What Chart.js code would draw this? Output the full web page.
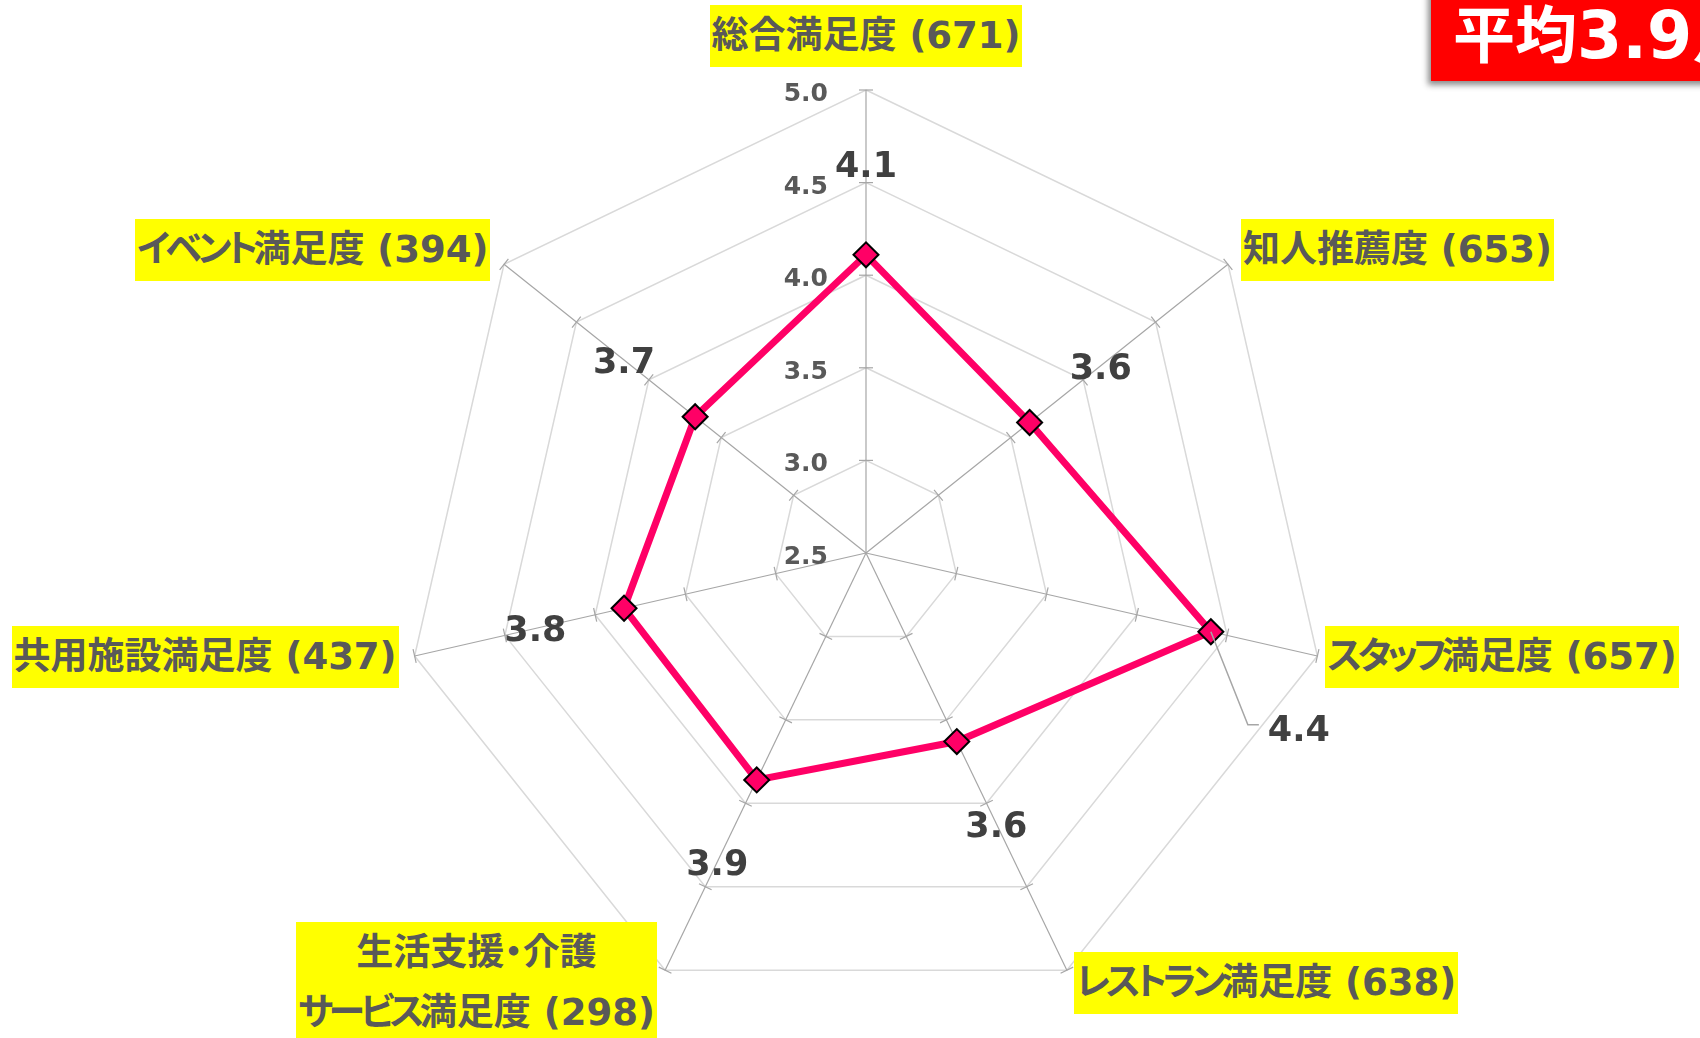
<!DOCTYPE html>
<html lang="ja">
<head>
<meta charset="utf-8">
<script src="https://cdn.jsdelivr.net/npm/chart.js@4.4.1/dist/chart.umd.min.js"></script>
<style>
  html, body { margin: 0; padding: 0; background: #fff; overflow: hidden; }
  #wrap { position: relative; width: 1700px; height: 1038px; overflow: hidden; }
  #grafico { position: absolute; left: 0; top: 0; }
  .rotulo {
    position: absolute;
    background: #ffff00;
    color: #595959;
    font-family: "DejaVu Sans", "Noto Sans CJK JP", sans-serif;
    font-weight: bold;
    font-size: 37px;
    line-height: 60px;
    padding: 1px 2px;
    white-space: nowrap;
    text-align: center;
    font-feature-settings: "palt";
  }
  .rotulo.duas { padding-bottom: 24px; }
  .kana { letter-spacing: -4.5px; }
  #media {
    position: absolute;
    left: 1431px;
    top: -20px;
    width: 320px;
    height: 101px;
    background: #ff0000;
    box-shadow: -3px 4px 6px rgba(0, 0, 0, 0.45);
    color: #fff;
    font-family: "DejaVu Sans", "Noto Sans CJK JP", sans-serif;
    font-weight: bold;
    font-size: 62px;
    line-height: 62px;
    padding: 25px 0 0 22px;
    box-sizing: border-box;
    white-space: nowrap;
  }
  #media .num { font-size: 65px; }
</style>
</head>
<body>
<div id="wrap">
  <canvas id="grafico" width="1700" height="1038"></canvas>
  <div id="media"></div>
</div>
<script>
// Dados do gráfico //

const categorias = [
    "総合満足度 (671)",
    "知人推薦度 (653)",
    "スタッフ満足度 (657)",
    "レストラン満足度 (638)",
    ["生活支援・介護", "サービス満足度 (298)"],
    "共用施設満足度 (437)",
    "イベント満足度 (394)"
];
const valores = [4.11, 3.63, 4.41, 3.63, 3.86, 3.84, 3.68];
const ticksEixo = [2.5, 3.0, 3.5, 4.0, 4.5, 5.0];
const tituloMedia = "平均3.9点";

// Posição dos rótulos das categorias (relativa à ponta de cada eixo) //
const layoutRotulos = [
    { alinha: "center", dx: 0,   dy: -54 },
    { alinha: "left",   dx: 13,  dy: -14 },
    { alinha: "left",   dx: 8,   dy: 1 },
    { alinha: "left",   dx: 7,   dy: 13 },
    { alinha: "right",  dx: -8,  dy: 24 },
    { alinha: "right",  dx: -16, dy: 1 },
    { alinha: "right",  dx: -14, dy: -14 }
];

// Monta texto separando trechos que recebem outra classe
function montaTexto(el, texto, regex, classe) {
    texto.split(regex).forEach(parte => {
        if (!parte) return;
        if (regex.test(parte)) {
            const s = document.createElement("span");
            s.className = classe;
            s.textContent = parte;
            el.appendChild(s);
        } else {
            el.appendChild(document.createTextNode(parte));
        }
    });
}

montaTexto(document.getElementById("media"), tituloMedia, /([0-9.]+)/, "num");

let rotulosCriados = false;

// Plugin: marcas e números do eixo, rótulos de dados e das categorias //
const rotulosPlugin = {
    id: "rotulos",
    beforeDatasetsDraw(chart) {
        const r = chart.scales.r;
        const ctx = chart.ctx;
        ctx.save();

        // marquinhas em cada eixo
        ctx.strokeStyle = "#a6a6a6";
        ctx.lineWidth = 1.2;
        ticksEixo.forEach(v => {
            if (v <= r.min) return;
            const d = r.getDistanceFromCenterForValue(v);
            for (let i = 0; i < categorias.length; i++) {
                const p = r.getPointPosition(i, d);
                const nx = -Math.sin(p.angle) * 7;
                const ny = Math.cos(p.angle) * 7;
                ctx.beginPath();
                ctx.moveTo(p.x - nx, p.y - ny);
                ctx.lineTo(p.x + nx, p.y + ny);
                ctx.stroke();
            }
        });

        // números do eixo, à esquerda do eixo vertical
        ctx.font = 'bold 25px "DejaVu Sans"';
        ctx.fillStyle = "#595959";
        ctx.textAlign = "right";
        ctx.textBaseline = "alphabetic";
        ticksEixo.forEach(v => {
            const d = r.getDistanceFromCenterForValue(v);
            ctx.fillText(v.toFixed(1), r.xCenter - 38, r.yCenter - d + 11);
        });
        ctx.restore();
    },
    afterDatasetsDraw(chart) {
        const r = chart.scales.r;
        const ctx = chart.ctx;
        const meta = chart.getDatasetMeta(0);
        ctx.save();
        ctx.font = 'bold 35px "DejaVu Sans"';
        ctx.fillStyle = "#404040";
        ctx.textBaseline = "alphabetic";

        valores.forEach((v, i) => {
            const pt = meta.data[i];
            if (i === 2) {
                // rótulo deslocado com linha guia
                ctx.strokeStyle = "#a6a6a6";
                ctx.lineWidth = 1.5;
                ctx.beginPath();
                ctx.moveTo(pt.x, pt.y);
                ctx.lineTo(pt.x + 37, pt.y + 93);
                ctx.lineTo(pt.x + 48, pt.y + 93);
                ctx.stroke();
                ctx.textAlign = "left";
                ctx.fillText(v.toFixed(1), pt.x + 57, pt.y + 96 + 13);
            } else {
                const p = r.getPointPosition(i, r.getDistanceFromCenterForValue(v) + 91);
                ctx.textAlign = "center";
                ctx.fillText(v.toFixed(1), p.x, p.y + 13);
            }
        });
        ctx.restore();
    },
    afterDraw(chart) {
        if (rotulosCriados) return;
        rotulosCriados = true;
        const r = chart.scales.r;
        const wrap = document.getElementById("wrap");

        categorias.forEach((cat, i) => {
            const el = document.createElement("div");
            el.className = "rotulo";
            const linhas = Array.isArray(cat) ? cat : [cat];
            if (linhas.length > 1) el.classList.add("duas");
            linhas.forEach((l, k) => {
                if (k > 0) el.appendChild(document.createElement("br"));
                montaTexto(el, l, /([\u30A1-\u30FA\u30FC]+)/, "kana");
            });
            wrap.appendChild(el);

            const e = r.getPointPosition(i, r.drawingArea);
            const cfg = layoutRotulos[i];
            const w = el.offsetWidth;
            const h = el.offsetHeight;
            let left = e.x + cfg.dx - w / 2;
            if (cfg.alinha === "left") left = e.x + cfg.dx;
            if (cfg.alinha === "right") left = e.x + cfg.dx - w;
            el.style.left = left + "px";
            el.style.top = (e.y + cfg.dy - h / 2) + "px";
        });
    }
};

const chart = new Chart(document.getElementById("grafico"), {
    type: "radar",
    data: {
        labels: categorias,
        datasets: [{
            data: valores,
            borderColor: "#ff0066",
            borderWidth: 7,
            backgroundColor: "transparent",
            fill: false,
            pointStyle: "rectRot",
            pointRadius: 12.5,
            pointBackgroundColor: "#ff0066",
            pointBorderColor: "#000000",
            pointBorderWidth: 2
        }]
    },
    options: {
        responsive: false,
        animation: false,
        devicePixelRatio: 1,
        layout: {
            padding: { top: 90, bottom: 22, left: 403, right: 371 }
        },
        plugins: {
            legend: { display: false },
            tooltip: { enabled: false }
        },
        elements: {
            line: { tension: 0 }
        },
        scales: {
            r: {
                min: ticksEixo[0],
                max: ticksEixo[ticksEixo.length - 1],
                ticks: { stepSize: 0.5, display: false },
                grid: { color: "#d9d9d9", lineWidth: 1.5 },
                angleLines: { color: "#a6a6a6", lineWidth: 1.2 },
                pointLabels: { display: false }
            }
        }
    },
    plugins: [rotulosPlugin]
});
</script>
</body>
</html>
